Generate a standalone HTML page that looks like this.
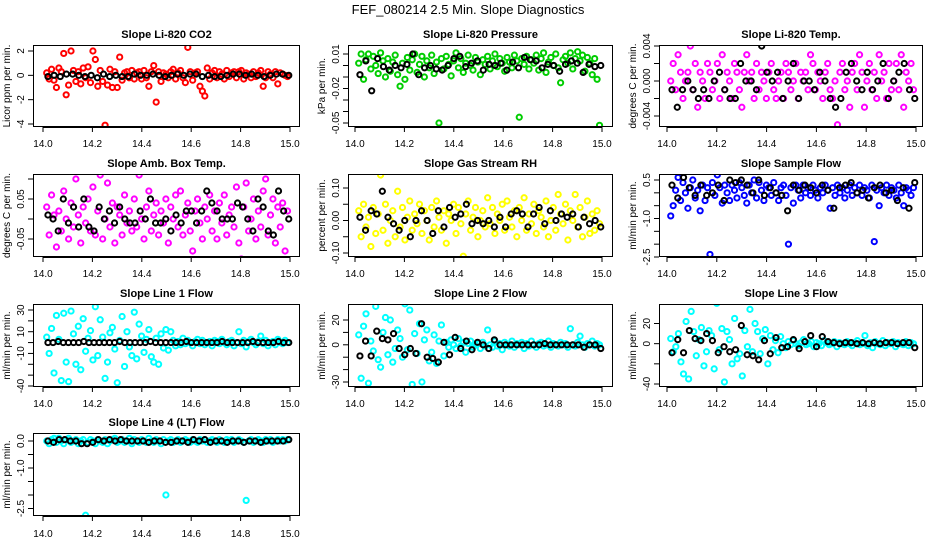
<!DOCTYPE html>
<html><head><meta charset="utf-8">
<style>
html,body{margin:0;padding:0;background:#fff;}
svg{display:block;font-family:"Liberation Sans",Arial,sans-serif;}
</style></head>
<body>
<svg id="chart" width="936" height="540" viewBox="0 0 936 540">
<text x="468" y="14" text-anchor="middle" font-size="13">FEF_080214  2.5 Min. Slope Diagnostics</text>
</svg>
<script>
// ---- data ----
const xTicks = [14.0,14.2,14.4,14.6,14.8,15.0];
const co2Vals = [0.2,-0.3,0.5,-0.4,-1.0,0.6,0.3,1.8,-1.6,-0.8,2.0,0.4,-0.5,0.3,-0.7,0.6,-0.2,0.7,-0.6,2.0,1.3,-0.9,0.4,-0.5,-4.1,-0.8,0.5,-1.0,0.3,-1.0,1.5,-0.4,0.2,0.3,-0.2,0.4,-0.3,0.2,0.3,-0.3,0.4,-0.2,-0.9,0.3,0.8,-2.2,0.3,-0.5,0.2,0.1,-0.2,0.3,0.5,-0.3,0.2,0.4,-0.2,-0.6,2.3,0.3,-0.4,0.2,0.3,-0.9,-1.3,-1.7,0.6,-0.3,0.2,0.4,-0.2,0.3,0.1,-0.3,0.4,-0.1,0.2,0.3,-0.2,0.3,0.4,-0.3,0.2,0.1,-0.2,0.3,-0.1,0.2,0.4,-0.9,-0.2,0.3,0.1,-0.2,0.3,-0.7,0.2,0.1,0.0,-0.1];
const co2Ref = [-0.1,0.0,-0.1,0.1,0.1,0.0,-0.1,0.0,-0.2,0.1,-0.1,0.0,-0.1,-0.1,0.1,0.0,0.0,0.1,0.0,-0.1,0.0,0.1,0.0,0.1,0.1,-0.1,0.0,-0.1,-0.1,0.0,0.1,0.1,0.0,0.1,0.0,-0.1,0.0,0.1,0.1,0.0];
const presVals = [0.002,0.010,-0.012,0.005,0.010,-0.003,0.008,0.000,-0.007,0.011,0.004,-0.010,0.006,-0.005,0.003,0.009,-0.008,-0.018,0.002,-0.012,0.007,-0.004,0.005,0.010,-0.006,0.001,0.008,-0.010,0.004,-0.002,0.009,-0.007,0.003,-0.050,0.006,-0.003,0.008,0.001,-0.009,0.004,0.011,-0.002,0.006,-0.006,0.002,0.009,0.000,-0.004,0.007,0.003,-0.008,0.005,0.001,0.008,-0.003,0.004,0.010,-0.001,0.006,0.002,-0.005,0.007,0.003,-0.002,0.009,0.004,-0.045,0.006,0.001,0.008,-0.003,0.005,0.002,0.009,-0.004,0.006,0.011,-0.006,0.003,0.007,0.000,0.010,-0.002,-0.015,0.005,0.008,0.002,0.011,-0.003,0.006,0.012,0.004,0.009,-0.005,0.007,0.002,-0.008,0.006,-0.012,-0.052];
const presRef = [-0.008,0.004,-0.022,0.006,-0.001,-0.004,0.000,-0.002,0.001,0.010,-0.008,-0.002,0.000,-0.003,-0.004,0.000,0.006,0.008,-0.001,0.002,0.004,-0.004,0.001,0.000,0.002,-0.004,0.003,-0.002,0.007,0.005,0.004,-0.002,0.001,0.000,-0.005,0.001,0.004,0.002,-0.006,0.001,-0.001,0.000];
const tempVals = [0.000,0.002,-0.001,0.003,0.001,-0.002,0.000,0.001,0.004,-0.001,0.002,-0.003,0.001,0.000,-0.002,0.002,0.001,-0.001,0.000,0.002,-0.002,0.003,-0.001,0.001,0.000,-0.002,0.002,0.001,-0.001,-0.003,0.001,0.003,0.000,0.001,-0.002,0.002,-0.001,0.001,0.000,-0.002,0.001,0.002,-0.001,-0.002,0.000,0.001,-0.002,0.002,0.001,-0.001,0.000,0.002,-0.002,0.001,0.000,0.001,-0.001,0.003,0.002,-0.001,0.001,0.000,-0.002,0.001,0.002,-0.001,-0.002,0.000,-0.005,0.001,0.002,-0.001,0.000,-0.003,0.001,0.002,-0.001,0.003,0.001,-0.003,0.000,0.002,-0.001,0.001,-0.002,0.003,0.000,0.001,-0.002,0.002,-0.001,0.000,0.002,-0.001,0.003,-0.003,0.001,0.000,0.002,-0.001];
const tempRef = [-0.001,-0.003,-0.001,0.000,-0.001,-0.002,-0.001,-0.002,0.000,0.001,-0.001,-0.002,-0.002,0.002,0.000,0.000,-0.001,0.004,0.001,0.000,0.001,-0.002,0.000,0.002,-0.002,0.000,0.000,-0.001,0.001,0.000,-0.002,-0.003,-0.002,0.001,0.002,0.000,-0.001,0.001,-0.001,0.000,0.002,-0.002,0.000,0.001,0.002,-0.001,-0.002];
const ambVals = [0.03,-0.04,0.06,0.01,-0.07,0.02,-0.03,0.07,0.00,-0.05,0.04,-0.02,0.10,0.01,-0.06,0.03,-0.01,0.05,-0.03,0.08,-0.04,0.02,0.11,-0.05,0.00,0.09,-0.02,0.04,-0.06,0.03,0.01,-0.04,0.06,-0.01,0.02,-0.03,0.05,-0.02,0.11,0.00,-0.05,0.03,0.07,-0.03,0.01,0.04,-0.04,0.02,-0.01,0.05,-0.06,0.03,0.00,0.06,-0.02,0.07,-0.04,0.01,0.04,-0.03,-0.08,0.02,0.05,-0.01,-0.05,0.03,0.00,0.06,-0.03,0.02,-0.05,0.04,-0.01,0.06,-0.04,0.01,0.03,-0.02,0.08,-0.06,-0.10,0.03,0.09,-0.03,0.00,0.05,-0.05,0.02,-0.02,0.07,0.10,-0.04,0.01,0.05,-0.06,0.03,-0.02,0.04,-0.08,0.02];
const ambRef = [0.01,0.00,-0.03,0.05,-0.01,0.03,-0.02,0.05,-0.02,-0.03,0.03,0.00,0.02,-0.01,0.03,0.00,-0.01,-0.01,0.02,0.00,0.05,-0.01,-0.01,0.00,-0.03,0.01,-0.01,0.02,0.02,-0.01,0.02,0.07,0.04,0.02,0.00,0.00,0.00,0.04,0.03,0.00,-0.03,0.05,0.03,-0.03,-0.04,0.07,0.02,0.00];
const rhVals = [0.03,-0.05,0.05,-0.02,0.01,-0.08,0.04,-0.04,0.02,0.14,-0.03,0.05,-0.07,0.00,0.03,-0.05,0.09,-0.02,0.04,-0.06,0.01,0.06,-0.03,0.02,-0.01,0.05,-0.04,0.03,0.00,-0.06,0.04,-0.02,0.06,0.01,-0.03,0.03,-0.07,0.02,0.00,0.05,-0.04,0.04,-0.01,-0.11,0.02,0.06,-0.03,0.01,0.04,-0.05,0.00,0.03,-0.02,0.07,-0.01,0.04,-0.04,0.02,0.00,0.05,-0.03,0.06,0.01,-0.02,0.03,-0.05,0.04,0.00,0.07,-0.03,0.02,-0.01,0.05,-0.04,0.03,0.01,-0.02,0.06,-0.05,0.00,0.04,-0.03,0.08,0.02,-0.01,0.05,-0.06,0.03,0.00,0.08,-0.02,0.04,-0.05,0.01,0.06,-0.04,0.02,-0.03,0.03,-0.01];
const rhRef = [0.01,-0.03,0.03,0.02,0.09,0.01,-0.01,-0.03,0.00,-0.05,0.00,0.03,0.00,-0.04,0.03,-0.02,0.04,0.01,0.02,0.05,-0.01,0.00,-0.01,0.00,-0.02,0.01,-0.02,0.02,0.03,0.02,-0.02,0.02,0.04,-0.01,0.03,0.00,0.02,0.01,0.02,-0.02,0.01,-0.01,0.00,-0.02];
const sampVals = [-0.9,-0.5,0.1,0.6,-0.3,0.4,0.0,-0.6,0.2,0.5,-0.2,0.1,-0.7,0.3,-0.3,0.2,-2.4,0.4,-0.1,0.7,0.2,-0.4,0.3,0.0,-0.3,0.3,0.1,-0.2,0.4,0.2,-0.1,-0.4,0.3,0.0,0.5,-0.2,0.4,0.1,-0.3,0.3,0.2,-0.1,0.4,0.0,-0.3,0.2,0.3,-0.1,-2.0,0.2,-0.4,0.3,0.1,-0.2,0.3,0.0,0.2,-0.1,0.3,0.1,-0.2,0.2,0.0,0.3,0.1,-0.6,0.2,-0.1,0.3,0.0,0.2,-0.2,0.1,0.3,-0.1,0.2,0.0,0.3,-0.1,0.2,0.1,-0.2,0.3,-1.9,0.1,-0.5,0.2,0.0,0.3,-0.1,0.2,0.1,-0.2,0.3,0.0,-0.5,0.2,0.1,-0.1,0.2];
const sampRef = [0.3,-0.2,0.6,0.2,-0.1,0.3,-0.1,0.0,0.3,-0.3,0.5,0.4,0.5,0.3,0.0,0.5,-0.1,0.2,0.0,-0.1,-0.7,0.3,0.1,0.3,0.2,0.0,0.3,0.1,-0.6,0.2,0.3,0.4,0.0,0.1,-0.2,0.2,0.3,0.0,0.1,-0.3,0.2,-0.6,0.4];
const l1Vals = [5,-10,13,-28,25,3,-35,27,-18,-36,29,8,-20,15,-25,22,-8,4,11,-16,33,-12,21,5,-33,-18,9,14,-6,-37,2,24,-22,10,-4,-12,28,-15,17,6,-9,3,12,-13,-18,4,-20,8,-5,12,-7,10,2,-3,1,-2,4,-1,2,0,-3,1,3,-1,2,-2,0,1,-3,2,1,-1,3,0,-2,1,2,-3,0,10,-1,2,-4,1,3,0,-2,1,6,-1,2,-3,0,1,-2,3,0,-1,2,0];
const l1Ref = [0,0,1,0,0,0,0,1,0,0,0,0,0,0,1,0,0,0,0,0,1,0,0,0,0,0,0,1,0,0,0,0,0,0,1,0,0,0,0,0,1,0,0,0,0,1,0,0];
const l2Vals = [8,-27,15,25,-31,3,-5,31,-12,-18,10,22,-8,20,-14,-3,12,5,-10,33,-4,28,-32,9,-7,17,-30,4,12,-13,-6,8,-15,3,16,-9,2,-2,4,0,-3,5,-1,2,-6,1,3,-2,0,1,-3,2,-1,12,0,-2,3,-1,1,-4,2,0,-1,3,-2,1,0,2,-3,1,-1,3,0,-2,1,2,-1,0,3,-2,1,0,-1,2,0,1,-2,13,0,-1,2,7,0,-2,1,0,3,-1,1,0];
const l2Ref = [-9,3,-9,11,5,4,9,-3,-8,-3,-7,17,-10,-11,-14,2,-8,6,-3,3,-4,2,0,-3,4,0,0,0,0,0,0,0,0,1,0,0,0,0,0,0,-2,0,0,-3];
const l3Vals = [5,-8,-3,10,-18,-30,22,-35,32,12,-12,4,16,-22,-8,13,8,-25,40,-6,15,-38,12,4,-20,25,-15,-10,-32,13,-3,34,-8,20,12,-10,5,14,-20,8,-6,3,-9,7,0,-4,2,-1,3,0,-2,1,4,-1,0,2,-3,1,0,-2,3,1,-1,0,2,-3,1,0,-1,2,0,-2,1,3,-1,0,8,-2,1,-4,2,0,-1,3,-2,1,0,2,-3,1,0,-1,2,-2,1,0];
const l3Ref = [-9,4,-9,13,5,3,10,3,-9,-3,-8,-6,18,-11,-12,-16,3,-10,6,-4,-3,4,-5,2,8,-3,7,2,1,0,1,1,0,1,0,1,0,1,1,0,1,1,-4];
const l4Vals = [0.0,-0.1,0.05,0.1,-0.05,0.1,0.0,-0.1,0.05,0.1,-0.05,0.0,0.05,-0.1,0.0,0.05,-2.75,-0.05,0.05,0.0,-0.1,0.05,0.0,-0.05,0.05,-0.1,0.0,0.05,0.1,-0.05,0.0,0.05,-0.05,0.0,0.1,-0.1,0.05,0.0,-0.05,0.05,0.0,-0.05,0.1,0.0,-0.05,0.05,0.0,-0.1,0.05,-2.0,0.0,0.05,-0.05,0.0,0.05,-0.05,0.0,0.05,0.0,-0.05,0.05,0.0,-0.05,0.05,0.0,0.05,-0.05,0.0,0.05,0.0,-0.05,0.05,0.0,-0.05,0.05,0.0,0.05,-0.05,0.0,0.05,0.0,-0.05,-2.2,0.0,0.05,-0.05,0.0,0.05,0.0,-0.05,0.05,0.0,0.05,-0.05,0.0,0.05,0.0,0.05,0.0,0.05];
const l4Ref = [0.0,-0.05,0.05,0.05,0.0,0.0,-0.1,-0.1,-0.05,0.05,0.0,0.05,0.0,0.05,0.0,0.0,0.0,0.0,-0.05,0.0,0.0,-0.05,-0.05,0.0,0.0,-0.05,0.05,0.0,0.05,-0.05,0.0,0.0,-0.05,0.0,0.0,-0.05,0.0,0.0,-0.05,0.0,0.0,0.0,0.0,0.05];

const co2Ticks=[2,0,-2,-4], co2Labels=["2","0","-2","-4"];
const presTicks=[0.01,0,-0.01,-0.02,-0.03,-0.04,-0.05], presLabels=["0.01","","","-0.02","","","-0.05"];
const tempTicks=[0.004,0.002,0,-0.002,-0.004], tempLabels=["0.004","","0.000","","-0.004"];
const ambTicks=[0.1,0.05,0,-0.05], ambLabels=["","0.05","","-0.05"];
const rhTicks=[0.1,0.05,0,-0.05,-0.1], rhLabels=["0.10","","0.00","","-0.10"];
const sampTicks=[0.5,0,-0.5,-1,-1.5,-2,-2.5], sampLabels=["0.5","","","-1.0","","","-2.5"];
const l1Ticks=[30,20,10,0,-10,-20,-30,-40], l1Labels=["30","","10","","-10","","","-40"];
const l2Ticks=[20,10,0,-10,-20,-30], l2Labels=["20","","0","","","-30"];
const l3Ticks=[20,0,-20,-40], l3Labels=["20","0","","-40"];
const l4Ticks=[0,-0.5,-1,-1.5,-2,-2.5], l4Labels=["0.0","","-1.0","","","-2.5"];

// ---- layout ----
const cols=[{l:33,r:300,x0:43,x1:290},{l:348,r:613,x0:355,x1:602},{l:659,r:923,x0:667,x1:916}];
const rows=[{t:45,b:127,title:34,xl:147},{t:174,b:257,title:163,xl:277},{t:304,b:387,title:293,xl:407},{t:433,b:516,title:422,xl:537}];
const panels=[
 {name:"co2",title:"Slope Li-820 CO2",ylab:"Licor ppm per min.",c:0,r:0,col:"#ff0000",v:co2Vals,k:co2Ref,ticks:co2Ticks,labels:co2Labels,ya:[2,51,-4,124]},
 {name:"pressure",title:"Slope Li-820 Pressure",ylab:"kPa per min.",c:1,r:0,col:"#00cd00",v:presVals,k:presRef,ticks:presTicks,labels:presLabels,ya:[0.01,54,-0.05,123]},
 {name:"li820-temp",title:"Slope Li-820 Temp.",ylab:"degrees C per min.",c:2,r:0,col:"#ff00ff",v:tempVals,k:tempRef,ticks:tempTicks,labels:tempLabels,ya:[0.004,46,-0.004,116]},
 {name:"amb-box-temp",title:"Slope Amb. Box Temp.",ylab:"degrees C per min.",c:0,r:1,col:"#ff00ff",v:ambVals,k:ambRef,ticks:ambTicks,labels:ambLabels,ya:[0.05,199,-0.05,239]},
 {name:"gas-stream-rh",title:"Slope Gas Stream RH",ylab:"percent per min.",c:1,r:1,col:"#ffff00",v:rhVals,k:rhRef,ticks:rhTicks,labels:rhLabels,ya:[0.1,188,-0.1,253]},
 {name:"sample-flow",title:"Slope Sample Flow",ylab:"ml/min per min.",c:2,r:1,col:"#0000ff",v:sampVals,k:sampRef,ticks:sampTicks,labels:sampLabels,ya:[0.5,180,-2.5,257]},
 {name:"line1-flow",title:"Slope Line 1 Flow",ylab:"ml/min per min.",c:0,r:2,col:"#00ffff",v:l1Vals,k:l1Ref,ticks:l1Ticks,labels:l1Labels,ya:[30,310,-40,386]},
 {name:"line2-flow",title:"Slope Line 2 Flow",ylab:"ml/min per min.",c:1,r:2,col:"#00ffff",v:l2Vals,k:l2Ref,ticks:l2Ticks,labels:l2Labels,ya:[20,320,-30,382]},
 {name:"line3-flow",title:"Slope Line 3 Flow",ylab:"ml/min per min.",c:2,r:2,col:"#00ffff",v:l3Vals,k:l3Ref,ticks:l3Ticks,labels:l3Labels,ya:[20,323.5,-40,384]},
 {name:"line4-flow",title:"Slope Line 4 (LT) Flow",ylab:"ml/min per min.",c:0,r:3,col:"#00ffff",v:l4Vals,k:l4Ref,ticks:l4Ticks,labels:l4Labels,ya:[0,441,-2.5,508.5]}
];
const NS="http://www.w3.org/2000/svg";
const svg=document.getElementById("chart");
function mk(tag,attrs,parent,txt){const e=document.createElementNS(NS,tag);for(const k in attrs)e.setAttribute(k,attrs[k]);if(txt!==undefined)e.textContent=txt;parent.appendChild(e);return e;}

panels.forEach(p=>{
 const C=cols[p.c],R=rows[p.r];
 const g=mk("g",{},svg);
 
 
 const xs=v=>C.x0+(v-14)*(C.x1-C.x0);
 const ys=v=>p.ya[1]+(v-p.ya[0])*(p.ya[3]-p.ya[1])/(p.ya[2]-p.ya[0]);
 const t=mk("text",{x:(C.l+C.r)/2,y:R.title+4,"text-anchor":"middle","font-size":"11","font-weight":"bold"},g,p.title);
 
 
 const cp=mk("clipPath",{id:"clip-"+p.name},g);
 mk("rect",{x:C.l,y:R.t,width:C.r-C.l,height:R.b-R.t},cp);
 const pts=mk("g",{"clip-path":"url(#clip-"+p.name+")",fill:"none","stroke-width":"2"},g);
 
 
 p.v.forEach((v,i)=>{
  const c=mk("circle",{cx:xs(14+0.015+i*0.975/(p.v.length-1)),cy:ys(v),r:2.6,stroke:p.col},pts);
  
  
 });
 p.k.forEach((v,i)=>{
  const c=mk("circle",{cx:xs(14+0.02+i*0.975/(p.k.length-1)),cy:ys(v),r:2.6,stroke:"#000"},pts);
  
  
 });
 const box=mk("rect",{x:C.l+0.5,y:R.t+0.5,width:C.r-C.l-1,height:R.b-R.t-1,fill:"none",stroke:"#000","stroke-width":"1"},g);
 
 
 const xa=mk("g",{stroke:"#000","stroke-width":"1"},g);
 
 
 mk("line",{x1:xs(14),x2:xs(15),y1:R.b+0.5,y2:R.b+0.5},xa);
 xTicks.forEach(tv=>{
  mk("line",{x1:xs(tv),x2:xs(tv),y1:R.b,y2:R.b+5},xa);
  const tl=mk("text",{x:xs(tv),y:R.xl,"text-anchor":"middle","font-size":"10",stroke:"none"},xa,tv.toFixed(1));
  
  
 });
 const ya=mk("g",{stroke:"#000","stroke-width":"1"},g);
 
 
 const yt=p.ticks.map(ys);
 mk("line",{x1:C.l+0.5,x2:C.l+0.5,y1:Math.min(...yt),y2:Math.max(...yt)},ya);
 p.ticks.forEach((tv,i)=>{
  const y=ys(tv);
  mk("line",{x1:C.l-5,x2:C.l,y1:y,y2:y},ya);
  if(p.labels[i]){
   const tl=mk("text",{x:C.l-9,y:y,"text-anchor":"middle","font-size":"10",stroke:"none",transform:`rotate(-90 ${C.l-9} ${y})`},ya,p.labels[i]);
   
   
  }
 });
 const cy=(R.t+R.b)/2, cx=C.l-23;
 const yl=mk("text",{x:cx,y:cy,"text-anchor":"middle","font-size":"10",transform:`rotate(-90 ${cx} ${cy})`},g,p.ylab);
 
 
});
</script>
</body></html>
